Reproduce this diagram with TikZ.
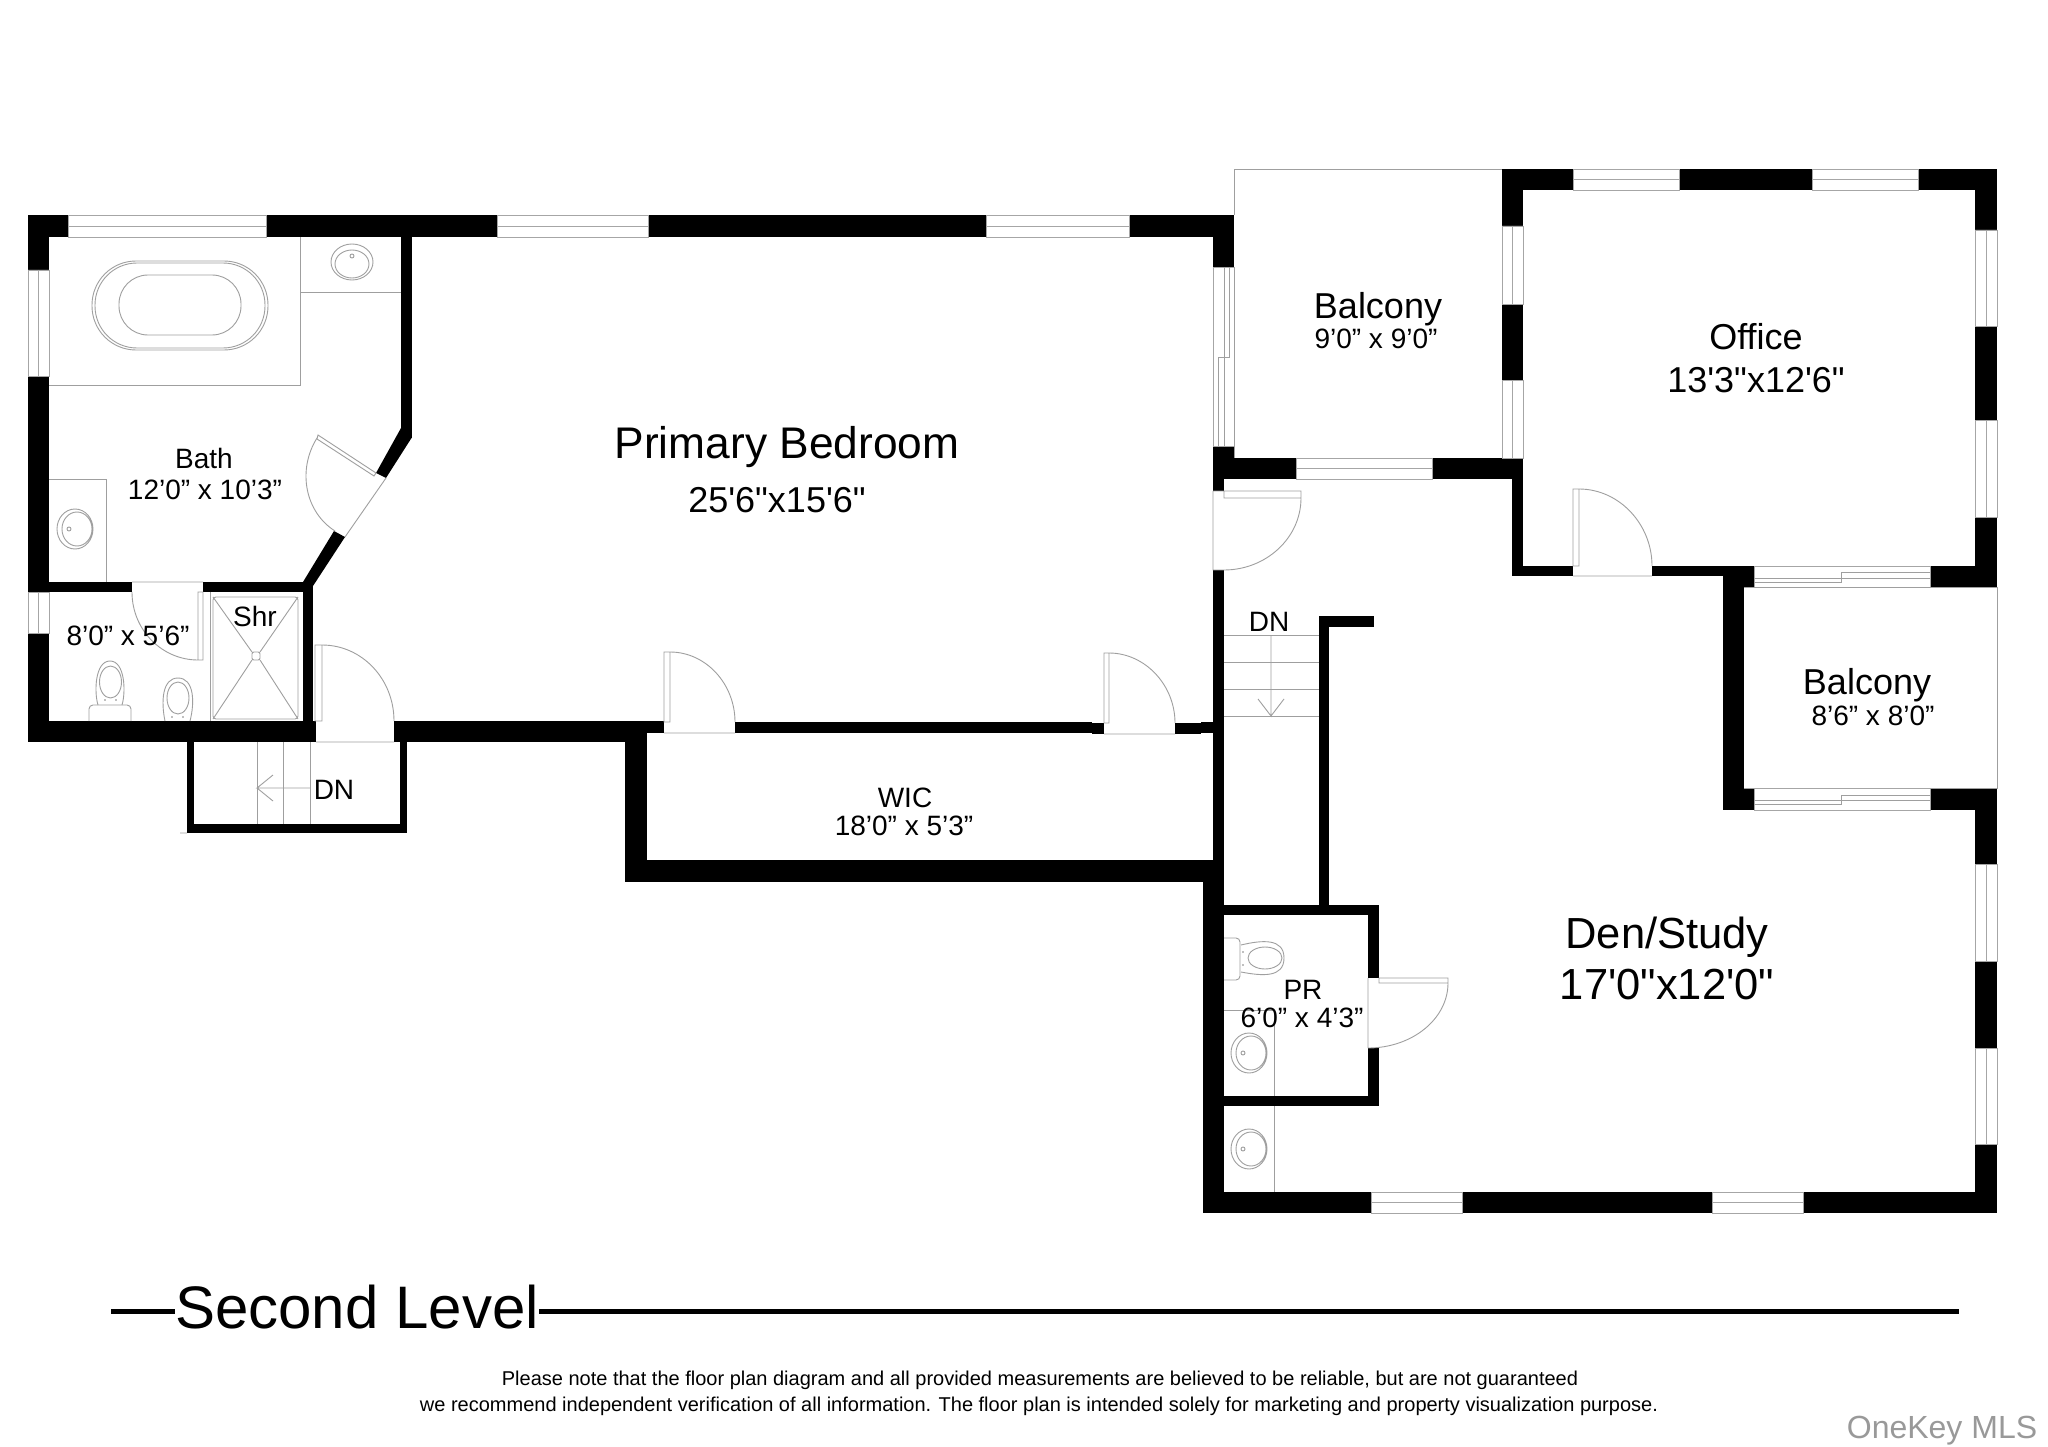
\documentclass[tikz,border=0pt]{standalone}
\usepackage{fontspec}
\usetikzlibrary{positioning}
\newfontfamily\planfont{Liberation Sans}
\newcommand{\fs}[1]{\planfont\fontsize{#1}{#1}\selectfont}
\tikzset{
  wall/.style={fill=black},
  glaze/.style={draw=gray!70,fill=white,line width=.8pt},
  fixture/.style={draw=gray!75,line width=.9pt},
  smalltxt/.style={font=\fs{28},inner sep=0pt},
  midtxt/.style={font=\fs{36},inner sep=0pt},
  bigtxt/.style={font=\fs{43.5},inner sep=0pt},
}
\begin{document}
\begin{tikzpicture}[x=1pt,y=-1pt]
    \useasboundingbox (0,0) rectangle (2048,1447);
    \fill[white] (0,0) rectangle (2048,1447);
    % walls
    \foreach \a/\b/\c/\d in {28/215/1234/237, 28/215/49/742, 28/721/316/742, 28/582/132/592, 203/582/313/592,
      303/582/313/742, 401/237/411.5/438, 394/721/625/742, 625/721/664/733, 735/722/1092/733, 1092/723/1104/734,
      1175/723/1201/734, 1201/722/1213/733, 625/721/647/882, 625/860/1214/882, 1213/215/1234/267, 1213/446/1234/479,
      1213/479/1224/491, 1213/570/1224/882, 1203/882/1224/1213, 1213/458/1523/479, 1502/169/1523/458,
      1502/169/1997/190, 1975/169/1997/587, 1512/479/1523/576, 1512/566/1573/576, 1652/566/1723/576,
      1723/566/1754/587, 1930/566/1997/587, 1723/566/1744/810, 1723/788/1754/810, 1930/788/1997/810,
      1975/810/1997/1213, 1203/1192/1997/1213, 1319/616/1329/908, 1319/616/1374/627, 1224/905/1379/915,
      1368/905/1379/978, 1368/1048/1379/1106, 1224/1096/1379/1106, 187/742/194/833, 187/824/407/833, 400/742/407/833}
      \fill[wall] (\a,\b) rectangle (\c,\d);
    \fill[wall] (401,428) -- (411.5,438) -- (386,478) -- (376,473) -- cycle;
    \fill[wall] (334,531) -- (345,537) -- (313,586) -- (303,582) -- cycle;
    % windows along a top or bottom wall
    \foreach \a/\b/\c/\d in {68/215/266/237, 497/215/648/237, 986/215/1129/237, 1296/458/1432/479,
      1573/169/1679/190, 1812/169/1918/190, 1371/1192/1462/1213, 1712/1192/1803/1213}
      \draw[glaze] (\a,\b) rectangle (\c,\d) (\a,{(\b+\d)/2}) -- (\c,{(\b+\d)/2});
    % windows along a side wall
    \foreach \a/\b/\c/\d in {28/270/49/376, 28/592/49/633, 1502/226/1523/304, 1502/380/1523/458,
      1975/230/1997/326, 1975/420/1997/517, 1975/864/1997/961, 1975/1048/1997/1144}
      \draw[glaze] (\a,\b) rectangle (\c,\d) ({(\a+\c)/2},\b) -- ({(\a+\c)/2},\d);
    % sliding doors
    \draw[glaze] (1213,267) rectangle (1234,446);
    \draw[fixture] (1229,267) -- (1229,357) -- (1218,357) -- (1218,446) (1224,267) -- (1224,446);
    \draw[glaze] (1754,566) rectangle (1930,587);
    \draw[fixture] (1754,582) -- (1841,582) -- (1841,572) -- (1930,572) (1754,578) -- (1930,578);
    \draw[glaze] (1754,788) rectangle (1930,810);
    \draw[fixture] (1754,804) -- (1841,804) -- (1841,795) -- (1930,795) (1754,800) -- (1930,800);
    % balconies
    \draw[fixture] (1234,215) -- (1234,169) -- (1502,169);
    \draw[fixture] (1234,267) -- (1234,458);
    \draw[fixture] (1744,587) -- (1997,587) -- (1997,788) -- (1930,788);
    \draw[fixture] (1744,788) -- (1754,788);
    % door leaves, swings and sills
    \draw[fixture] (198,592) rectangle (203,660) (198,660) .. controls +(-36,0) and +(0,38) .. (132,592) (132,582) -- (203,582);
    \draw[fixture] (318,435) -- (317,439) -- (374,476) -- (376,473) -- cycle (386,478) -- (345,537)
      (317,438) .. controls (297,470) and (305,512) .. (335,531);
    \draw[fixture] (315,645) rectangle (322,721) (322,645) .. controls +(40,0) and +(0,-42) .. (394,721) (316,742) -- (394,742);
    \draw[fixture] (1224,491) rectangle (1301,498) (1301,498) .. controls +(0,40) and +(42,0) .. (1224,570)
      (1213,491) -- (1213,570) -- (1224,570) (1213,491) -- (1224,491);
    \draw[fixture] (1573,489) rectangle (1579,566) (1579,489) .. controls +(40,0) and +(0,-42) .. (1652,566) (1573,576) -- (1652,576);
    \draw[fixture] (1379,978) rectangle (1448,983) (1448,983) .. controls +(0,36) and +(44,0) .. (1368,1048) (1368,978) -- (1368,1048);
    \draw[fixture] (664,652) rectangle (670,722) (670,652) .. controls +(36,0) and +(0,-38) .. (735,722) (664,733) -- (735,733);
    \draw[fixture] (1104,653) rectangle (1109,723) (1109,653) .. controls +(36,0) and +(0,-38) .. (1175,723) (1104,734) -- (1175,734);
    % bath fixtures
    \draw[fixture] (49,385) -- (300,385) -- (300,237) (300,292) -- (401,292) (49,479) -- (106,479) -- (106,582) (210,592) -- (210,721);
    \draw[fixture,rounded corners=44pt] (92,261) rectangle (268,350);
    \draw[fixture,rounded corners=42pt] (95,263) rectangle (265,348);
    \draw[fixture,rounded corners=29pt] (119,275) rectangle (241,335);
    \draw[fixture] (352,262) ellipse (21 and 18) (352,264) ellipse (17 and 14) (352,256) circle (2);
    \draw[fixture] (75,529) ellipse (18 and 20) (77,529) ellipse (15 and 17) (69,529) circle (2);
    \draw[fixture,rounded corners=3pt] (213,597) rectangle (298,719);
    \draw[fixture] (213,597) -- (252,652) (298,597) -- (260,652) (213,719) -- (252,660) (298,719) -- (260,660);
    \draw[fixture,rounded corners=2pt] (252,652) rectangle (260,660);
    \draw[fixture,rounded corners=4pt] (89,721) -- (89,705) -- (131,705) -- (131,721);
    \draw[fixture] (98,705) .. controls (94,692) and (95,661) .. (110,661) .. controls (125,661) and (126,692) .. (122,705);
    \draw[fixture] (110.5,682) ellipse (11 and 16);
    \fill[gray] (105,700) circle (.8) (116,700) circle (.8);
    \draw[fixture] (165,721) .. controls (161,702) and (162,678) .. (178,678) .. controls (194,678) and (195,702) .. (190,721);
    \draw[fixture] (178,698) ellipse (11 and 16);
    \fill[gray] (172,717) circle (.8) (183,717) circle (.8);
    % stairs
    \draw[fixture] (257,742) -- (257,824) (283,742) -- (283,824) (310,742) -- (310,824);
    \draw[fixture] (310,788) -- (257,788) -- (273,775) (257,788) -- (273,801) (180,833) -- (187,833);
    \foreach \b in {635,662,689,716}
      \draw[fixture] (1224,\b) -- (1319,\b);
    \draw[fixture] (1271,635) -- (1271,716) -- (1258,699) (1271,716) -- (1284,699);
    % powder room fixtures
    \draw[fixture,rounded corners=4pt] (1224,938) -- (1240,938) -- (1240,980) -- (1224,980);
    \draw[fixture] (1241,945) .. controls (1262,940) and (1284,938) .. (1284,958) .. controls (1284,978) and (1262,976) .. (1241,972);
    \draw[fixture] (1265,958) ellipse (17 and 11);
    \fill[gray] (1243,952) circle (.8) (1243,965) circle (.8);
    \draw[fixture] (1224,1010) -- (1274,1010) (1274,1010) -- (1274,1096) (1274,1106) -- (1274,1192);
    \draw[fixture] (1249,1053) ellipse (18 and 20) (1251,1053) ellipse (15 and 17) (1243,1053) circle (2);
    \draw[fixture] (1249,1149) ellipse (18 and 20) (1251,1149) ellipse (15 and 17) (1243,1149) circle (2);
    % labels
    \node[font=\fs{44.3},inner sep=0pt] (primary) at (787,447) {Primary Bedroom};
    \node[font=\fs{36},inner sep=0pt] (primarysize) at (777,500) {25'6"x15'6"};
    \node[smalltxt] (bath) at (204,458) {Bath};
    \node[smalltxt] (bathsize) at (205,490) {12’0” x 10’3”};
    \node[smalltxt] (halfsize) at (128,636) {8’0” x 5’6”};
    \node[smalltxt] (shr) at (255,616) {Shr};
    \node[smalltxt] (dnleft) at (334,790) {DN};
    \node[smalltxt] (dnright) at (1269,622) {DN};
    \node[midtxt] (balconya) at (1378,309) {Balcony};
    \node[smalltxt] (balconyasize) at (1376,339) {9’0” x 9’0”};
    \node[midtxt] (office) at (1756,337) {Office};
    \node[midtxt] (officesize) at (1756,380) {13'3"x12'6"};
    \node[midtxt] (balconyb) at (1867,685) {Balcony};
    \node[smalltxt] (balconybsize) at (1873,716) {8’6” x 8’0”};
    \node[bigtxt] (den) at (1667,937) {Den/Study};
    \node[bigtxt] (densize) at (1667,985) {17'0"x12'0"};
    \node[smalltxt] (pr) at (1303,990) {PR};
    \node[smalltxt] (prsize) at (1302,1018) {6’0” x 4’3”};
    \node[smalltxt] (wic) at (905,798) {WIC};
    \node[smalltxt] (wicsize) at (904,826) {18’0” x 5’3”};
    % title and notes
    \node[font=\fs{60},inner sep=0pt,anchor=west] (title) at (175,1307) {Second Level};
    \coordinate (ruleleft) at (111,1311);
    \coordinate (ruleright) at (1959,1311);
    \draw[line width=5pt] (ruleleft) -- (ruleleft -| title.west);
    \draw[line width=5pt] (ruleright -| title.east) -- (ruleright);
    \node[font=\fs{20},inner sep=0pt] (noteone) at (1040,1380) {Please note that the floor plan diagram and all provided measurements are believed to be reliable, but are not guaranteed};
    \node[font=\fs{20},inner sep=0pt] (notetwo) at (1039,1406) {we recommend independent verification of all information. The floor plan is intended solely for marketing and property visualization purpose.};
    \node[font=\fs{32},inner sep=0pt,text=gray!80] (brand) at (1942,1431) {OneKey MLS};
  \end{tikzpicture}
\end{document}
